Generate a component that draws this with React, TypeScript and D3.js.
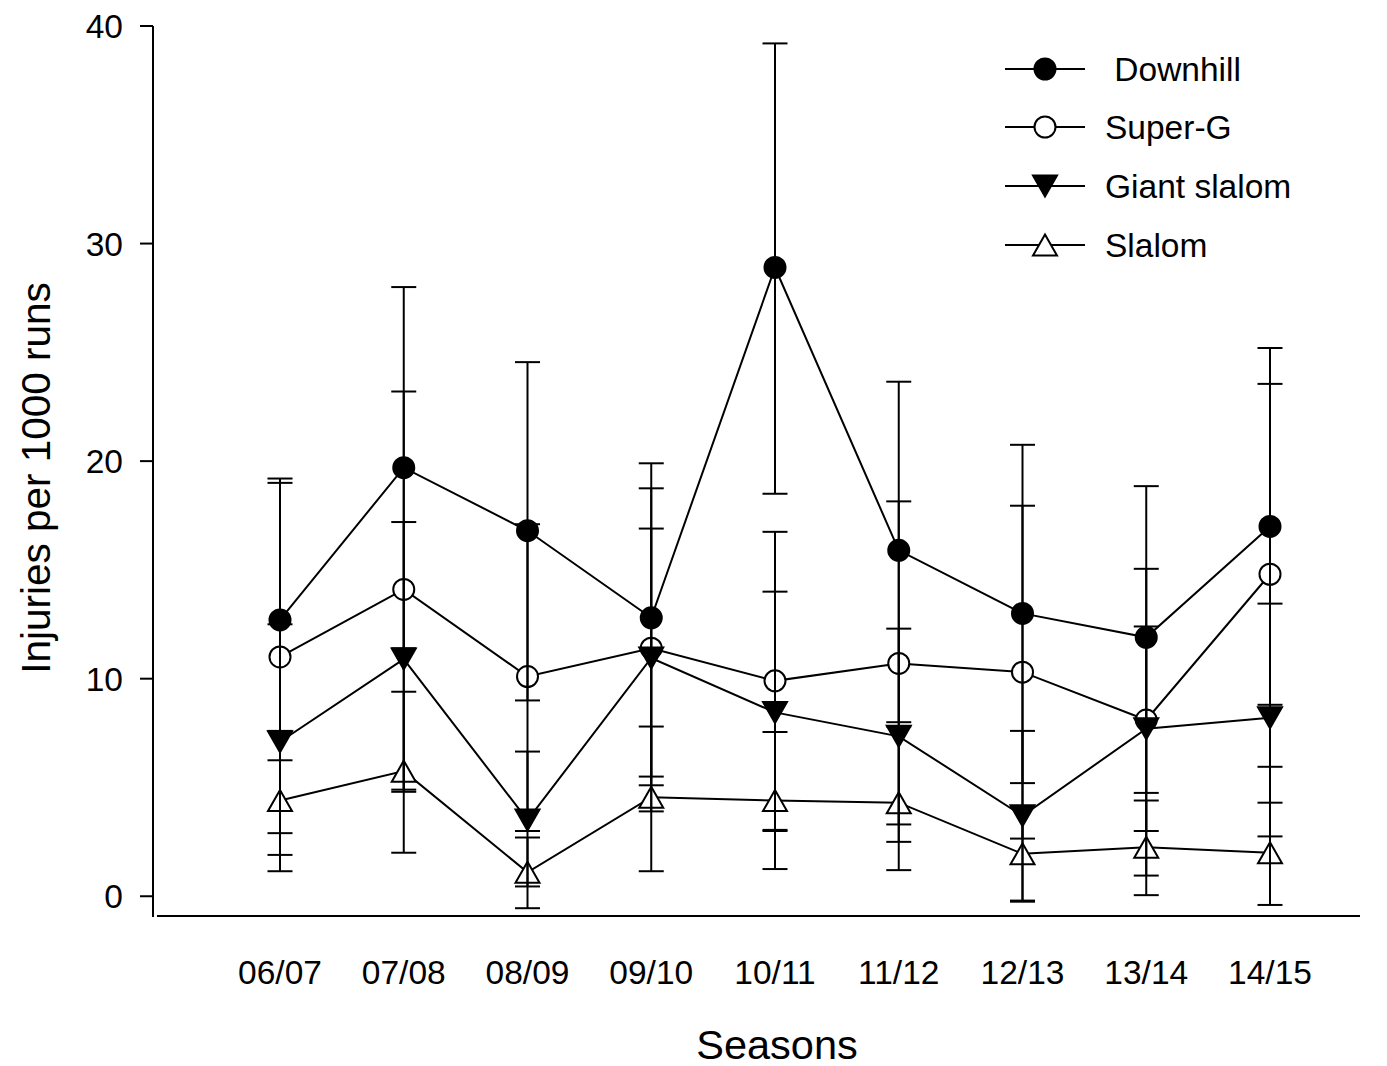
import React from "react";
import * as d3 from "d3";

// Ski racing seasons on the x axis
const seasons = ["06/07", "07/08", "08/09", "09/10", "10/11", "11/12", "12/13", "13/14", "14/15"];

// Injuries per 1000 runs, with lower / upper error limits
const downhill = [12.7, 19.7, 16.8, 12.8, 28.9, 15.9, 13.0, 11.9, 17.0];
const downhillLow = [6.25, 11.4, 9.0, 5.5, 18.5, 8.0, 5.2, 4.75, 8.8];
const downhillHigh = [19.2, 28.0, 24.55, 19.9, 39.2, 23.65, 20.75, 18.85, 25.2];

const superG = [11.0, 14.1, 10.1, 11.4, 9.9, 10.7, 10.3, 8.1, 14.8];
const superGLow = [2.9, 4.9, 3.0, 3.9, 3.05, 3.3, 2.65, 0.95, 5.95];
const superGHigh = [19.0, 23.2, 17.1, 18.75, 16.75, 18.15, 17.95, 15.05, 23.55];

const giantSlalom = [7.1, 10.9, 3.5, 10.95, 8.45, 7.35, 3.7, 7.7, 8.2];
const giantSlalomLow = [1.9, 4.8, 0.45, 5.1, 3.0, 2.5, -0.2, 3.0, 2.75];
const giantSlalomHigh = [12.5, 17.2, 6.65, 16.9, 14.0, 12.3, 7.6, 12.4, 13.45];

const slalom = [4.4, 5.75, 1.1, 4.55, 4.4, 4.3, 1.95, 2.25, 2.0];
const slalomLow = [1.15, 2.0, -0.55, 1.15, 1.25, 1.2, -0.25, 0.05, -0.4];
const slalomHigh = [7.6, 9.4, 2.7, 7.8, 7.55, 7.8, 4.1, 4.4, 4.3];

const yTicks = [0, 10, 20, 30, 40];

type Marker = "circle" | "down" | "up";

const seriesList = [
  { name: " Downhill", values: downhill, low: downhillLow, high: downhillHigh, marker: "circle" as Marker, fill: "#000" },
  { name: "Super-G", values: superG, low: superGLow, high: superGHigh, marker: "circle" as Marker, fill: "#fff" },
  { name: "Giant slalom", values: giantSlalom, low: giantSlalomLow, high: giantSlalomHigh, marker: "down" as Marker, fill: "#000" },
  { name: "Slalom", values: slalom, low: slalomLow, high: slalomHigh, marker: "up" as Marker, fill: "#fff" },
];

const W = 1387;
const H = 1066;
const FONT = "'Liberation Sans', Arial, sans-serif";

const x = d3.scaleLinear().domain([0, seasons.length - 1]).range([280, 1270]);
const y = d3.scaleLinear().domain([-1, 40]).range([918, 26]);

const axisX = 153;
const axisBottom = 917;
const xAxisStart = 157;
const xAxisEnd = 1360;
const capHalf = 12.5;

function MarkerShape({ type, cx, cy, fill }: { type: Marker; cx: number; cy: number; fill: string }) {
  if (type === "circle") {
    return <circle cx={cx} cy={cy} r={10.5} fill={fill} stroke="#000" strokeWidth={2} />;
  }
  const hw = 12;
  const hh = 10.5;
  const pts =
    type === "down"
      ? [[cx - hw, cy - hh], [cx + hw, cy - hh], [cx, cy + hh]]
      : [[cx, cy - hh], [cx + hw, cy + hh], [cx - hw, cy + hh]];
  return <polygon points={pts.map((p) => p.join(",")).join(" ")} fill={fill} stroke="#000" strokeWidth={2} strokeLinejoin="miter" />;
}

export default function App() {
  const line = d3
    .line<number>()
    .x((_, i) => x(i))
    .y((d) => y(d));

  const legendY = [69, 127, 186, 245];

  return (
    <svg
      width={W}
      height={H}
      style={{ position: "absolute", left: 0, top: 0, background: "#fff" }}
      fontFamily={FONT}
    >
      <rect width={W} height={H} fill="#fff" />

      {/* axes */}
      <line x1={axisX} x2={axisX} y1={y(40)} y2={axisBottom} stroke="#000" strokeWidth={2} />
      <line x1={xAxisStart} x2={xAxisEnd} y1={axisBottom - 1} y2={axisBottom - 1} stroke="#000" strokeWidth={2} />
      {yTicks.map((t) => (
        <g key={t}>
          <line x1={axisX - 13} x2={axisX} y1={y(t)} y2={y(t)} stroke="#000" strokeWidth={2} />
          <text x={axisX - 30} y={y(t)} dy="0.36em" textAnchor="end" fontSize={33.5}>
            {t}
          </text>
        </g>
      ))}
      {seasons.map((s, i) => (
        <text key={s} x={x(i)} y={984} textAnchor="middle" fontSize={33.5}>
          {s}
        </text>
      ))}
      <text x={777} y={1059} textAnchor="middle" fontSize={41.5}>
        Seasons
      </text>
      <text
        transform={`translate(50, 478) rotate(-90)`}
        textAnchor="middle"
        fontSize={40.5}
      >
        Injuries per 1000 runs
      </text>

      {/* connecting lines */}
      {seriesList.map((s) => (
        <path key={s.name} d={line(s.values) || ""} fill="none" stroke="#000" strokeWidth={2} />
      ))}

      {/* markers */}
      {seriesList.map((s) =>
        s.values.map((v, i) => <MarkerShape key={s.name + i} type={s.marker} cx={x(i)} cy={y(v)} fill={s.fill} />)
      )}

      {/* error bars */}
      {seriesList.map((s) =>
        s.values.map((_, i) => (
          <g key={"e" + s.name + i} stroke="#000" strokeWidth={2}>
            <line x1={x(i)} x2={x(i)} y1={y(s.low[i])} y2={y(s.high[i])} />
            <line x1={x(i) - capHalf} x2={x(i) + capHalf} y1={y(s.low[i])} y2={y(s.low[i])} />
            <line x1={x(i) - capHalf} x2={x(i) + capHalf} y1={y(s.high[i])} y2={y(s.high[i])} />
          </g>
        ))
      )}

      {/* legend */}
      {seriesList.map((s, k) => (
        <g key={"l" + s.name}>
          <line x1={1005} x2={1085} y1={legendY[k]} y2={legendY[k]} stroke="#000" strokeWidth={2} />
          <MarkerShape type={s.marker} cx={1045} cy={legendY[k]} fill={s.fill} />
          <text x={1105} y={legendY[k]} dy="0.36em" fontSize={33.5} xmlSpace="preserve" style={{ whiteSpace: "pre" }}>
            {s.name}
          </text>
        </g>
      ))}
    </svg>
  );
}
